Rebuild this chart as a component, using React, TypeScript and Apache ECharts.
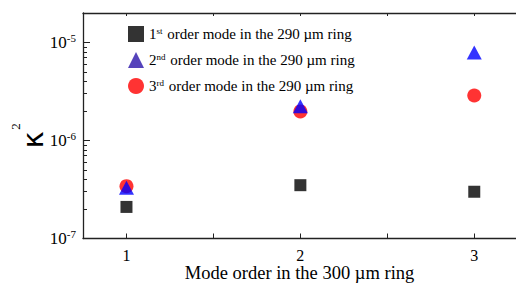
import React, { useEffect, useRef } from "react";
import * as echarts from "echarts";

const modeOrders = [1, 2, 3];
const firstOrder = [2.1e-7, 3.5e-7, 3.0e-7];
const secondOrder = [3.3e-7, 2.24e-6, 7.9e-6];
const thirdOrder = [3.42e-7, 1.98e-6, 2.88e-6];
const seriesNames = [
  "1st order mode in the 290 µm ring",
  "2nd order mode in the 290 µm ring",
  "3rd order mode in the 290 µm ring",
];
const yLabelValues = [1e-7, 1e-6, 1e-5];
const xTickValues = [1, 1.5, 2, 2.5, 3];
const xLabelValues = [1, 2, 3];

const FONT = "Liberation Serif";

export default function App() {
  const ref = useRef<HTMLDivElement>(null);
  useEffect(() => {
    if (!ref.current) return;
    const chart = echarts.init(ref.current, undefined, { renderer: "svg" });
    const minorY: number[] = [];
    for (let e = -7; e <= -5; e++) {
      for (let k = 2; k <= 9; k++) {
        const v = k * Math.pow(10, e);
        if (v <= 2e-5) minorY.push(v);
      }
    }
    const pairs = (ys: number[]) => modeOrders.map((x, i) => [x, ys[i]]);
    const axisLine = { lineStyle: { color: "#222", width: 1.3 } };
    chart.setOption({
      animation: false,
      textStyle: { fontFamily: FONT },
      grid: { left: 83, right: 0, top: 13, bottom: 45.5, outerBoundsMode: "none", containLabel: false },
      legend: {
        orient: "vertical",
        left: 123,
        top: 21,
        itemWidth: 16,
        itemHeight: 16,
        itemGap: 10,
        selectedMode: false,
        data: [
          { name: seriesNames[0], icon: "rect", itemStyle: { color: "#000" } },
          { name: seriesNames[1], icon: "triangle", itemStyle: { color: "#2a14aa" } },
          { name: seriesNames[2], icon: "circle", itemStyle: { color: "#ff0000" } },
        ],
        formatter: (name: string) => {
          const m = name.match(/^(\d)(st|nd|rd)(.*)$/);
          if (!m) return name;
          return `{t|${m[1]}}{s|${m[2]}}{t|${m[3]}}`;
        },
        textStyle: {
          fontFamily: FONT,
          fontSize: 15,
          color: "#000",
          rich: {
            t: { fontFamily: FONT, fontSize: 15, color: "#000", lineHeight: 16 },
            s: { fontFamily: FONT, fontSize: 9, color: "#000", padding: [0, 1, 7, 0], lineHeight: 16 },
          },
        },
      },
      xAxis: [
        {
          type: "value",
          min: 0.75,
          max: 3.24,
          name: "Mode order in the 300 µm ring",
          nameLocation: "middle",
          nameGap: 25,
          nameMoveOverlap: false,
          nameTextStyle: { fontFamily: FONT, fontSize: 18.5, color: "#000", lineHeight: 19 },
          axisLine,
          splitLine: { show: false },
          axisTick: { inside: true, length: 5, customValues: xTickValues, lineStyle: { color: "#222" } },
          axisLabel: {
            customValues: xLabelValues,
            fontFamily: FONT,
            fontSize: 16,
            color: "#000",
            margin: 9,
          },
        },
        {
          type: "value",
          position: "top",
          min: 0.75,
          max: 3.24,
          axisLine,
          splitLine: { show: false },
          axisTick: { inside: true, length: 3, customValues: xTickValues, lineStyle: { color: "#222" } },
          axisLabel: { show: false },
        },
      ],
      yAxis: [
        {
          type: "log",
          logBase: 10,
          min: 1e-7,
          max: 2e-5,
          axisLine,
          splitLine: { show: false },
          axisTick: { inside: true, length: 7, customValues: yLabelValues, lineStyle: { color: "#222" } },
          axisLabel: {
            customValues: yLabelValues,
            fontFamily: FONT,
            fontSize: 17,
            color: "#000",
            margin: 7,
            formatter: (v: number) => {
              const e = Math.round(Math.log10(v));
              return `{b|10}{s|${e}}`;
            },
            rich: {
              b: { fontFamily: FONT, fontSize: 17, color: "#000", lineHeight: 18 },
              s: { fontFamily: FONT, fontSize: 11, color: "#000", padding: [0, 0, 9, 0], lineHeight: 18 },
            },
          },
        },
        {
          type: "log",
          logBase: 10,
          min: 1e-7,
          max: 2e-5,
          position: "left",
          axisLine: { show: false },
          splitLine: { show: false },
          axisTick: { inside: true, length: 4, customValues: minorY, lineStyle: { color: "#222" } },
          axisLabel: { show: false },
        },
      ],
      graphic: [
        {
          type: "text",
          x: 33,
          y: 140,
          rotation: Math.PI / 2,
          style: {
            text: "κ",
            fontFamily: "DejaVu Sans",
            fontSize: 29,
            fill: "#000",
            align: "center",
            verticalAlign: "middle",
          },
        },
        {
          type: "text",
          x: 15.5,
          y: 126.5,
          rotation: Math.PI / 2,
          style: {
            text: "2",
            fontFamily: FONT,
            fontSize: 13,
            fill: "#000",
            align: "center",
            verticalAlign: "middle",
          },
        },
      ],
      series: [
        {
          name: seriesNames[0],
          type: "scatter",
          symbol: "rect",
          symbolSize: 12,
          itemStyle: { color: "#000" },
          data: pairs(firstOrder),
          z: 2,
        },
        {
          name: seriesNames[1],
          type: "scatter",
          symbol: "triangle",
          symbolSize: [15, 14],
          itemStyle: { color: "#0000ff" },
          data: pairs(secondOrder),
          z: 4,
        },
        {
          name: seriesNames[2],
          type: "scatter",
          symbol: "circle",
          symbolSize: 14,
          itemStyle: { color: "#ff0000" },
          data: pairs(thirdOrder),
          z: 3,
        },
      ],
    });
    return () => chart.dispose();
  }, []);
  return (
    <div
      ref={ref}
      style={{ position: "absolute", left: 0, top: 0, width: 516, height: 284 }}
    />
  );
}
